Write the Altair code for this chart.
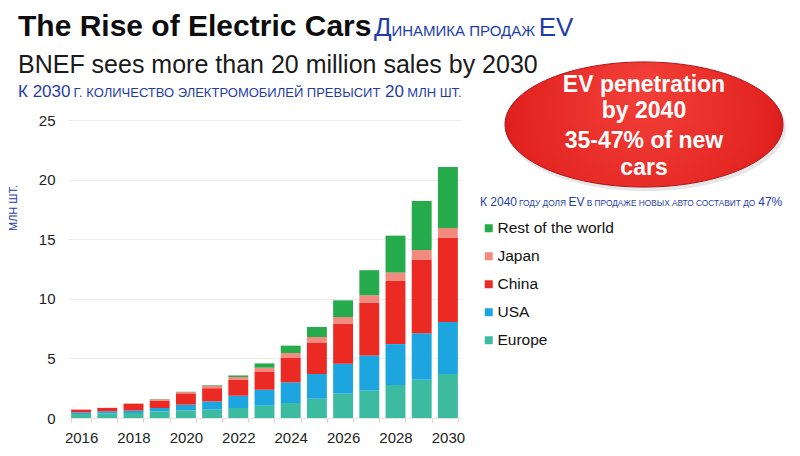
import altair as alt
import pandas as pd

# ---------------- data ----------------
years = list(range(2016, 2031))
europe = [0.34, 0.39, 0.42, 0.56, 0.64, 0.70, 0.84, 1.03, 1.26, 1.62, 2.04, 2.29, 2.77, 3.20, 3.70]
usa    = [0.13, 0.17, 0.20, 0.28, 0.48, 0.69, 1.03, 1.34, 1.73, 2.08, 2.51, 2.96, 3.43, 3.90, 4.35]
china  = [0.23, 0.28, 0.57, 0.62, 0.95, 1.11, 1.33, 1.54, 2.09, 2.60, 3.35, 4.40, 5.30, 6.20, 7.10]
japan  = [0.02, 0.02, 0.03, 0.10, 0.10, 0.20, 0.24, 0.31, 0.37, 0.50, 0.57, 0.65, 0.70, 0.80, 0.80]
rest   = [0.00, 0.00, 0.01, 0.03, 0.03, 0.05, 0.13, 0.36, 0.62, 0.83, 1.40, 2.10, 3.10, 4.10, 5.10]

series_names = ["Europe", "USA", "China", "Japan", "Rest of the world"]
series_values = [europe, usa, china, japan, rest]
legend_order = ["Rest of the world", "Japan", "China", "USA", "Europe"]
legend_colors = ["#25ab4b", "#f28a80", "#eb2a23", "#1da5df", "#3cbba0"]
y_ticks = [0, 5, 10, 15, 20, 25]

rows = []
for idx, (name, vals) in enumerate(zip(series_names, series_values)):
    for yr, v in zip(years, vals):
        rows.append({"year": yr, "region": name, "value": v, "idx": idx})
df = pd.DataFrame(rows)

# ---------------- layout helpers ----------------
OX, OY = 68, 120  # page position of plot origin
BLUE = "#1f3da8"
FONT = "Liberation Sans"
dummy = pd.DataFrame({"k": [0]})

W = {' ': 278, '.': 278, '%': 889, '-': 333, 'E': 667, 'V': 667,
     'А': 667, 'Б': 656, 'В': 667, 'Г': 542, 'Д': 677, 'Е': 667, 'Ж': 923, 'З': 604,
     'И': 719, 'Й': 719, 'К': 583, 'Л': 656, 'М': 833, 'Н': 722, 'О': 778, 'П': 719,
     'Р': 667, 'С': 722, 'Т': 611, 'У': 635, 'Ф': 760, 'Х': 667, 'Ц': 740, 'Ч': 667,
     'Ш': 917, 'Щ': 938, 'Ъ': 792, 'Ы': 885, 'Ь': 656, 'Э': 719, 'Ю': 1010, 'Я': 722}


def wid(s):
    return sum(W.get(ch, 556) for ch in s) / 1000.0


def txt(text, x, y, size, color="#111", weight="normal", font=FONT,
        align="left", baseline="alphabetic", angle=0):
    return alt.Chart(dummy).mark_text(
        text=text, fontSize=size, color=color, fontWeight=weight, font=font,
        align=align, baseline=baseline, angle=angle
    ).encode(x=alt.value(x - OX), y=alt.value(y - OY))


def segs(parts, x0, y, color, font=FONT, factor=0.992):
    out = []
    x = x0
    for text, size in parts:
        lead = len(text) - len(text.lstrip(' '))
        core = text.strip(' ')
        xs = x + wid(' ' * lead) * size * factor
        if core:
            out.append(txt(core, xs, y, size, color=color, font=font))
        x += wid(text) * size * factor
    return out


# ---------------- bars ----------------
bars = alt.Chart(df).mark_bar().encode(
    x=alt.X("year:O",
            scale=alt.Scale(paddingInner=0.24, paddingOuter=0.12),
            axis=alt.Axis(title=None, labelAngle=0, labelFontSize=15, labelFont=FONT,
                          labelColor="#222", labelPadding=8, labelOverlap=False,
                          labelExpr="datum.value % 2 == 0 ? datum.label : ''",
                          ticks=True, tickBand="extent", tickSize=4, tickColor="#ecc6c6",
                          domain=True, domainColor="#e4e4e4", grid=False)),
    y=alt.Y("value:Q", stack="zero",
            scale=alt.Scale(domain=[0, 25], nice=False),
            axis=alt.Axis(title=None, values=y_ticks, grid=True, gridColor="#ebebeb",
                          ticks=False, domain=False, labelPadding=13, labelFontSize=15,
                          labelFont=FONT, labelColor="#222")),
    color=alt.Color("region:N",
                    scale=alt.Scale(domain=legend_order, range=legend_colors),
                    legend=alt.Legend(orient="none", legendX=413, legendY=100.5, title=None,
                                      symbolType="square", symbolSize=64, symbolStrokeWidth=0,
                                      symbolOpacity=1, labelFontSize=15.5, labelFont=FONT,
                                      labelColor="#111", rowPadding=11, labelOffset=1,
                                      padding=0)),
    order=alt.Order("idx:Q", sort="ascending"),
)

# ---------------- red ellipse ----------------
ell_path = ("M -1 0 C -1 -0.2485 -0.5523 -0.45 0 -0.45 C 0.5523 -0.45 1 -0.2485 1 0 "
            "C 1 0.2485 0.5523 0.45 0 0.45 C -0.5523 0.45 -1 0.2485 -1 0 Z")
grad = {"gradient": "radial", "x1": 0.5, "y1": 0.35, "r1": 0.0,
        "x2": 0.5, "y2": 0.5, "r2": 0.62,
        "stops": [{"offset": 0, "color": "#f3413a"},
                  {"offset": 0.75, "color": "#e2221f"},
                  {"offset": 1, "color": "#b7121a"}]}
shadow = alt.Chart(dummy).mark_point(
    shape=ell_path, size=78400, filled=True, fill="#9a9a9a", opacity=0.25, strokeWidth=0
).encode(x=alt.value(646 - OX), y=alt.value(128 - OY))
ellipse = alt.Chart(dummy).mark_point(
    shape=ell_path, size=77284, filled=True, fill=grad, opacity=1,
    stroke="#b0121a", strokeWidth=1
).encode(x=alt.value(644 - OX), y=alt.value(124.5 - OY))

layers = [bars, shadow, ellipse]

# ellipse text
for line, yb in [("EV penetration", 91.5), ("by 2040", 118), ("35-47% of new", 148.3), ("cars", 175)]:
    layers.append(txt(line, 644, yb, 23, color="white", weight="bold", align="center"))

# titles
layers.append(txt("The Rise of Electric Cars", 18, 36, 30, color="#0d0d0d", weight="bold"))
layers += segs([("Д", 26), ("ИНАМИКА ПРОДАЖ ", 15), ("EV", 26)], 374, 36, BLUE)
layers.append(txt("BNEF sees more than 20 million sales by 2030", 18, 73, 25, color="#1a1a1a"))
layers += segs([("К 2030", 17), (" Г. КОЛИЧЕСТВО ЭЛЕКТРОМОБИЛЕЙ ПРЕВЫСИТ ", 13), ("20", 17),
                (" МЛН ШТ.", 13)], 18, 97, BLUE)
layers += segs([("К 2040", 12), (" ГОДУ ДОЛЯ ", 8.3), ("EV", 12),
                (" В ПРОДАЖЕ НОВЫХ АВТО СОСТАВИТ ДО ", 8.3), ("47%", 12)], 480, 206, BLUE)
# y-axis title
layers.append(txt("МЛН ШТ.", 14, 208, 11, color=BLUE, align="center", baseline="middle", angle=270))

chart = alt.layer(*layers).properties(
    width=393, height=298,
    padding={"left": 60, "top": 112, "right": 331, "bottom": 30},
    autosize=alt.AutoSizeParams(type="none"),
    background="white",
).configure_view(stroke=None)

chart.save("out.html", embed_options={"renderer": "svg", "actions": False})
